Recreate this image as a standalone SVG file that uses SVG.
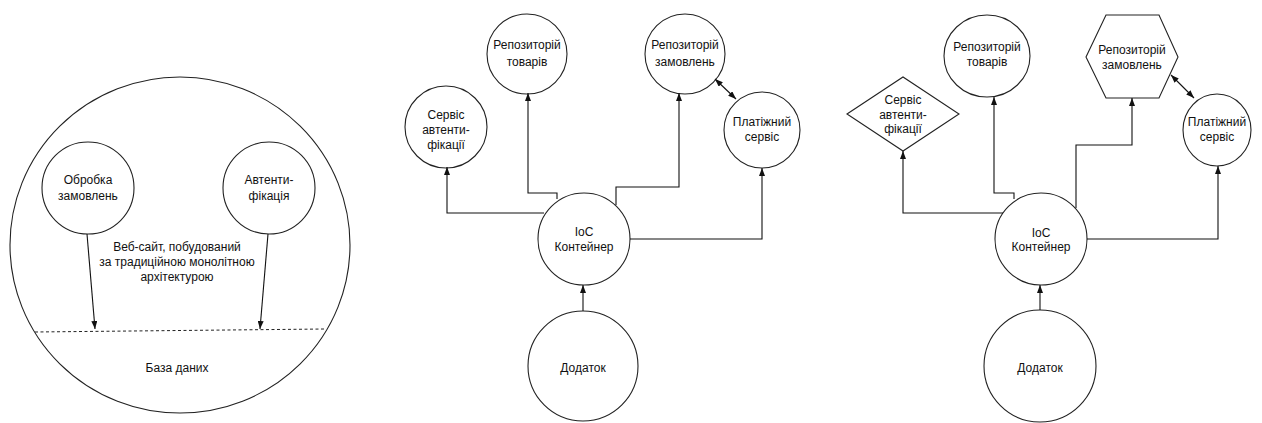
<svg xmlns="http://www.w3.org/2000/svg" width="1262" height="423" viewBox="0 0 1262 423">
<style>
.n{fill:#fff;stroke:#222;stroke-width:1.1}
.t{font-family:"Liberation Sans",Arial,sans-serif;font-size:12px;fill:#111;text-anchor:middle}
.c{fill:none;stroke:#111;stroke-width:1.1}
</style>
<defs>
<marker id="a" viewBox="0 0 8 6" refX="8" refY="3" markerWidth="8" markerHeight="6" markerUnits="userSpaceOnUse" orient="auto-start-reverse"><path d="M0,0 L8,3 L0,6 z" fill="#111"/></marker>
</defs>
<rect width="1262" height="423" fill="#fff"/>

<!-- Panel 1 -->
<g id="monolith">
<ellipse class="n" cx="180" cy="245" rx="170" ry="168"/>
<line x1="35" y1="332" x2="325" y2="329" stroke="#222" stroke-width="1" stroke-dasharray="3,2.5"/>
<text class="t" x="177" y="251">Веб-сайт, побудований</text>
<text class="t" x="177" y="266">за традиційною монолітною</text>
<text class="t" x="177" y="281">архітектурою</text>
<text class="t" x="177" y="372">База даних</text>
</g>
<g id="p1-orders">
<circle class="n" cx="88" cy="188" r="46"/>
<text class="t" x="88" y="184">Обробка</text>
<text class="t" x="88" y="200">замовлень</text>
</g>
<g id="p1-auth">
<circle class="n" cx="269" cy="188" r="46"/>
<text class="t" x="269" y="184">Автенти-</text>
<text class="t" x="269" y="200">фікація</text>
</g>

<!-- Panel 2 -->
<g id="p2-auth">
<circle class="n" cx="446" cy="127" r="41"/>
<text class="t" x="446" y="119">Сервіс</text>
<text class="t" x="446" y="134">автенти-</text>
<text class="t" x="446" y="149">фікації</text>
</g>
<g id="p2-goods">
<circle class="n" cx="527" cy="54" r="40"/>
<text class="t" x="527" y="49">Репозиторій</text>
<text class="t" x="527" y="66">товарів</text>
</g>
<g id="p2-orders">
<circle class="n" cx="685" cy="54" r="40"/>
<text class="t" x="685" y="49">Репозиторій</text>
<text class="t" x="685" y="66">замовлень</text>
</g>
<g id="p2-pay">
<circle class="n" cx="762" cy="130" r="38"/>
<text class="t" x="762" y="126">Платіжний</text>
<text class="t" x="762" y="141">сервіс</text>
</g>
<g id="p2-ioc">
<circle class="n" cx="584" cy="239" r="46"/>
<text class="t" x="584" y="236">IoC</text>
<text class="t" x="584" y="251">Контейнер</text>
</g>
<g id="p2-app">
<circle class="n" cx="583" cy="366" r="55"/>
<text class="t" x="583" y="372">Додаток</text>
</g>

<!-- Panel 3 -->
<g id="p3-auth">
<polygon class="n" points="847,114 903,77 959,114 903,151"/>
<text class="t" x="903" y="104">Сервіс</text>
<text class="t" x="903" y="119">автенти-</text>
<text class="t" x="903" y="133">фікації</text>
</g>
<g id="p3-goods">
<ellipse class="n" cx="987" cy="56" rx="43" ry="41"/>
<text class="t" x="987" y="51">Репозиторій</text>
<text class="t" x="987" y="66">товарів</text>
</g>
<g id="p3-orders">
<polygon class="n" points="1086,57 1106,15 1159,15 1178,57 1159,98 1106,98"/>
<text class="t" x="1132" y="54">Репозиторій</text>
<text class="t" x="1132" y="69">замовлень</text>
</g>
<g id="p3-pay">
<ellipse class="n" cx="1217" cy="130" rx="34" ry="36"/>
<text class="t" x="1217" y="126">Платіжний</text>
<text class="t" x="1217" y="141">сервіс</text>
</g>
<g id="p3-ioc">
<circle class="n" cx="1041" cy="239" r="46"/>
<text class="t" x="1041" y="237">IoC</text>
<text class="t" x="1041" y="251">Контейнер</text>
</g>
<g id="p3-app">
<circle class="n" cx="1040" cy="366" r="56"/>
<text class="t" x="1040" y="372">Додаток</text>
</g>

<g id="connectors">
<!-- panel 1 -->
<line class="c" x1="87" y1="234" x2="95" y2="329" marker-end="url(#a)"/>
<line class="c" x1="268" y1="234" x2="260" y2="329" marker-end="url(#a)"/>
<!-- panel 2 -->
<line class="c" x1="583" y1="311" x2="583" y2="285" marker-end="url(#a)"/>
<polyline class="c" points="544,213 447,213 447,167" marker-end="url(#a)"/>
<polyline class="c" points="557,199 557,193 528,193 528,93" marker-end="url(#a)"/>
<polyline class="c" points="616,205 616,187 679,187 679,93" marker-end="url(#a)"/>
<polyline class="c" points="630,239 762,239 762,168" marker-end="url(#a)"/>
<line class="c" x1="715" y1="79" x2="736" y2="99" marker-start="url(#a)" marker-end="url(#a)"/>
<!-- panel 3 -->
<line class="c" x1="1040" y1="310" x2="1040" y2="285" marker-end="url(#a)"/>
<polyline class="c" points="1003,213 903,213 903,151" marker-end="url(#a)"/>
<polyline class="c" points="1014,199 1014,193 994,193 994,97" marker-end="url(#a)"/>
<polyline class="c" points="1076,208 1076,145 1132,145 1132,98" marker-end="url(#a)"/>
<polyline class="c" points="1087,239 1218,239 1218,166" marker-end="url(#a)"/>
<line class="c" x1="1171" y1="75" x2="1194" y2="98" marker-start="url(#a)" marker-end="url(#a)"/>
</g>
</svg>
